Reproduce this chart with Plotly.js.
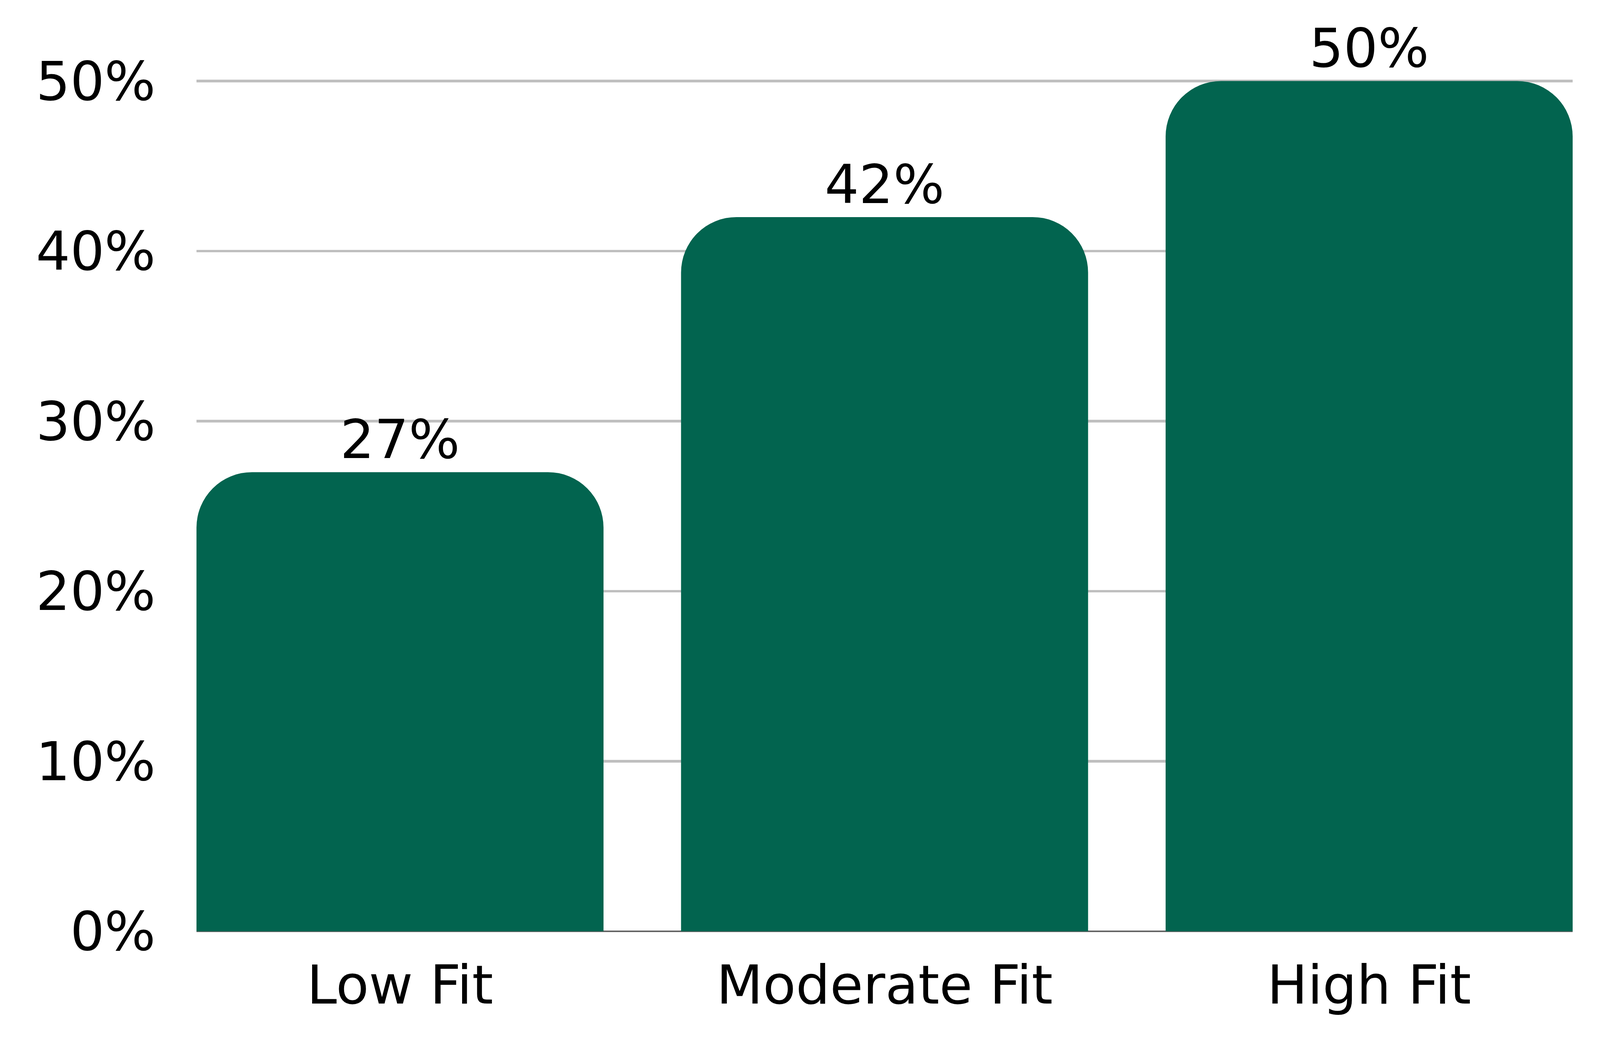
<!DOCTYPE html>
<html>
<head>
<meta charset="utf-8">
<script src="https://cdn.plot.ly/plotly-3.0.1.min.js"></script>
<style>
  html, body { margin: 0; padding: 0; background: #ffffff; overflow: hidden; }
  #chart { position: absolute; left: 0; top: 0; }
</style>
</head>
<body>
<div id="chart"></div>
<script>
// Share of respondents by fit level
const categories = ['Low Fit', 'Moderate Fit', 'High Fit'];
const shares = [0.27, 0.42, 0.50];
const yTicks = [0, 0.1, 0.2, 0.3, 0.4, 0.5];

const barColor = '#02644F';
const fontFamily = 'DejaVu Sans, sans-serif';

// design was measured on a 4308x2712 canvas; fit it to whatever viewport we get
const W0 = 4308, H0 = 2712;
const vw = document.documentElement.clientWidth || window.innerWidth || W0;
const vh = document.documentElement.clientHeight || window.innerHeight || H0;
const sx = vw / W0, sy = vh / H0;
const s = Math.min(sx, sy);

const fontSize = 145 * s;

const bars = {
  type: 'bar',
  x: categories,
  y: shares,
  marker: { color: barColor, cornerradius: 150 * s },
  texttemplate: '%{y:.0%}',
  textposition: 'outside',
  textfont: { family: fontFamily, size: fontSize, color: '#000000' },
  cliponaxis: false,
  constraintext: 'none',
  hoverinfo: 'skip'
};

const layout = {
  width: vw,
  height: vh,
  margin: { l: 529 * sx, r: 74 * sx, t: 204 * sy, b: 327 * sy },
  paper_bgcolor: '#ffffff',
  plot_bgcolor: '#ffffff',
  showlegend: false,
  bargap: 0.16,
  font: { family: fontFamily, size: fontSize, color: '#000000' },
  xaxis: {
    type: 'category',
    range: [-0.42, 2.42],
    showgrid: false,
    showline: false,
    ticks: '',
    ticklabelstandoff: 46 * sy,
    tickfont: { family: fontFamily, size: fontSize, color: '#000000' }
  },
  yaxis: {
    range: [0, 0.5008],
    tickvals: yTicks,
    tickformat: '.0%',
    showgrid: true,
    gridcolor: '#BFBFBF',
    gridwidth: 7 * s,
    zeroline: true,
    zerolinecolor: '#666666',
    zerolinewidth: 4 * s,
    showline: false,
    ticks: 'outside',
    ticklen: 80 * sx,
    tickcolor: 'rgba(0,0,0,0)',
    tickfont: { family: fontFamily, size: fontSize, color: '#000000' }
  }
};

Plotly.newPlot('chart', [bars], layout, { displayModeBar: false, staticPlot: true });
</script>
</body>
</html>
